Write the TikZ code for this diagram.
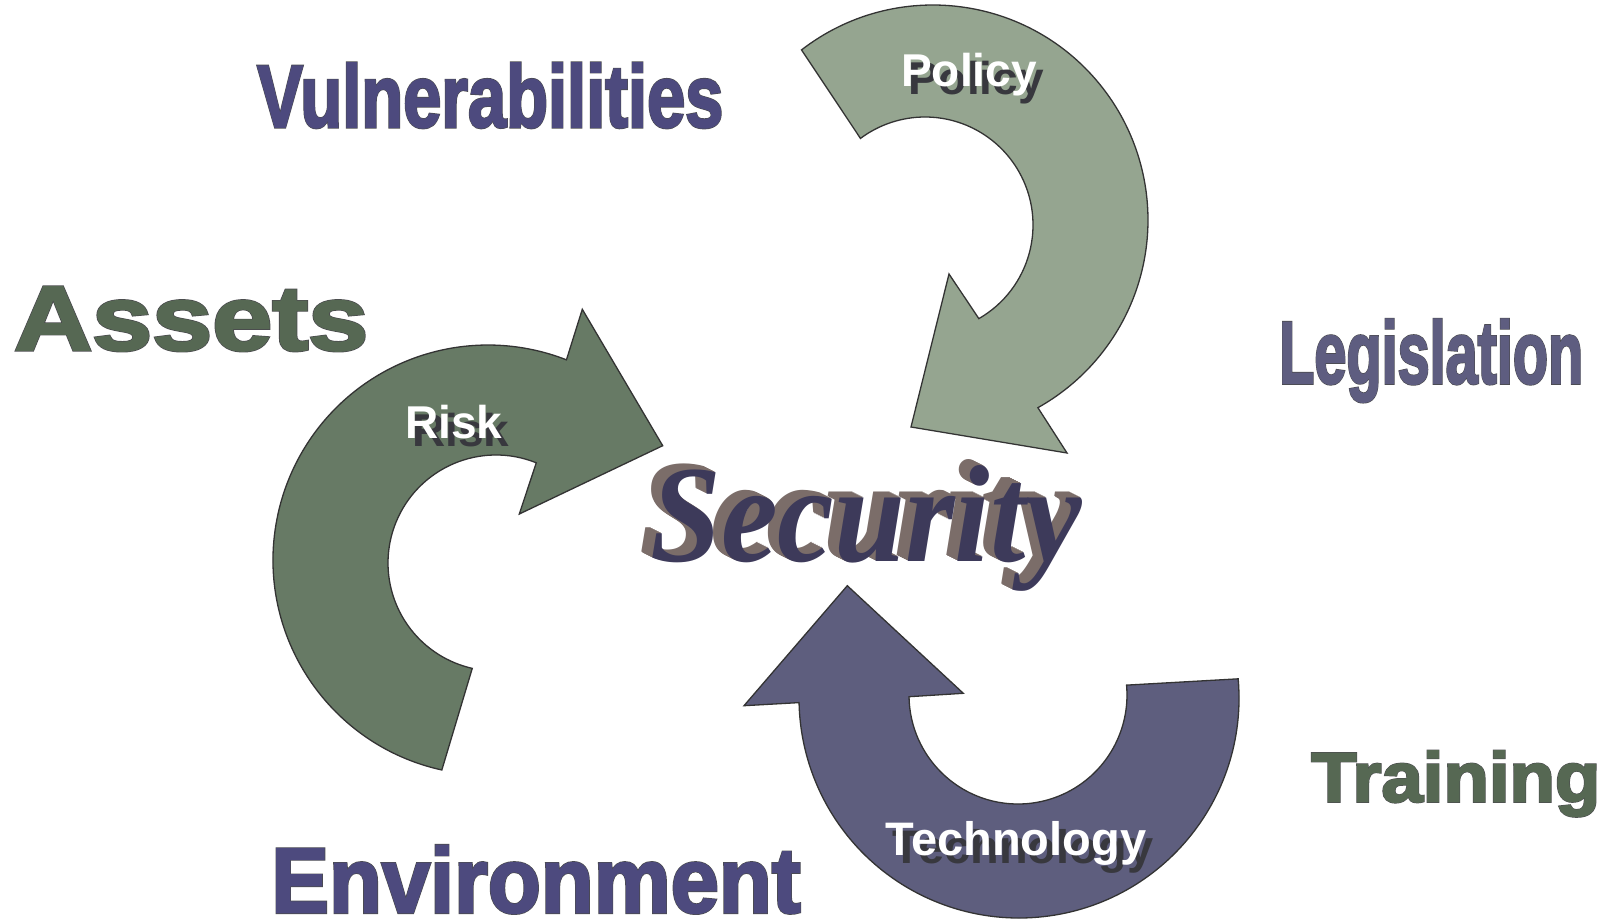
\documentclass[tikz,border=0pt]{standalone}
\usepackage{fontspec}
\setmainfont{Liberation Sans}
\newfontfamily\secfont{Liberation Serif}
\newfontfamily\wordfont{Liberation Sans}[BoldFeatures={FakeBold=2}]
\newfontfamily\wordedge{Liberation Sans}[BoldFeatures={FakeBold=3.4}]
\definecolor{policyc}{HTML}{95A590}
\definecolor{riskc}{HTML}{677A65}
\definecolor{techc}{HTML}{5E5E7E}
\definecolor{edgec}{HTML}{333333}
\definecolor{blueword}{HTML}{4D4A7E}
\definecolor{greyword}{HTML}{5E5D80}
\definecolor{greenword}{HTML}{566853}
\definecolor{wordline}{HTML}{4A4A4E}
\definecolor{shadowc}{HTML}{38383E}
\definecolor{extrc}{HTML}{7B6D69}
\definecolor{frontc}{HTML}{3D3A5A}
\begin{document}
\begin{tikzpicture}[x=1pt,y=-1pt,
  arrowshape/.style={draw=edgec,line width=1.3pt,line join=miter},
  lbl/.style={anchor=base,font=\fontsize{46}{46}\selectfont\bfseries,text=white,inner sep=0pt},
  lblshadow/.style={lbl,text=shadowc},
  bigword/.style={anchor=base west,inner sep=0pt,font=\wordfont\bfseries},
  bigedge/.style={anchor=base west,inner sep=0pt,font=\wordedge\bfseries,text=wordline},
  secw/.style={anchor=base west,inner sep=0pt,font=\secfont\bfseries\itshape}]
\fill[white] (0,0) rectangle (1617,921);
\useasboundingbox (0,0) rectangle (1617,921);

% Policy arrow
\filldraw[arrowshape,fill=policyc]
  ([shift={(933,220)}]-127.7:215) arc[start angle=-127.7,end angle=60.8,radius=215]
  -- (1067,453) -- (911,427) -- (949,274)
  -- ([shift={(925,225)}]60.1:108) arc[start angle=60.1,end angle=-126.7,radius=108] -- cycle;
% Risk arrow
\filldraw[arrowshape,fill=riskc]
  ([shift={(488,560)}]102.4:215) arc[start angle=102.4,end angle=291.4,radius=215]
  -- (582.3,309.3) -- (662.7,445.7) -- (519.3,514)
  -- ([shift={(496,563)}]291.9:108) arc[start angle=291.9,end angle=102.7,radius=108] -- cycle;
% Technology arrow
\filldraw[arrowshape,fill=techc]
  ([shift={(1019,698)}]-5:220) arc[start angle=-5,end angle=178.8,radius=220]
  -- (744,705.7) -- (847.3,585.7) -- (963.3,693.3)
  -- ([shift={(1018,695)}]179.1:109) arc[start angle=179.1,end angle=-5.2,radius=109] -- cycle;

% arrow labels
\node[lblshadow] (policys) at (976,94.7) {Policy};
\node[lbl] (policy) at (969,86.7) {Policy};
\node[lblshadow] (risks) at (461,446) {Risk};
\node[lbl] (risk) at (454,438) {Risk};
\node[lblshadow,font=\fontsize{47}{47}\selectfont\bfseries] (techs) at (1023,863) {Technology};
\node[lbl,font=\fontsize{47}{47}\selectfont\bfseries] (tech) at (1016,855) {Technology};

% outer words
\node[bigedge] (vulne) at (257,127) {\resizebox{466pt}{64pt}{Vulnerabilities}};
\node[bigword,text=blueword] (vuln) at (257,127) {\resizebox{466pt}{64pt}{Vulnerabilities}};
\node[bigedge] (assetse) at (14,350) {\resizebox{354pt}{63pt}{Assets}};
\node[bigword,text=greenword] (assets) at (14,350) {\resizebox{354pt}{63pt}{Assets}};
\node[bigedge] (legise) at (1279,383.3) {\resizebox{304pt}{64pt}{Legislation}};
\node[bigword,text=greyword] (legis) at (1279,383.3) {\resizebox{304pt}{64pt}{Legislation}};
\node[bigedge] (traine) at (1311,801.7) {\resizebox{289pt}{51pt}{Training}};
\node[bigword,text=greenword] (train) at (1311,801.7) {\resizebox{289pt}{51pt}{Training}};
\node[bigedge] (enve) at (271,912.5) {\resizebox{529pt}{67pt}{Environment}};
\node[bigword,text=blueword] (env) at (271,912.5) {\resizebox{529pt}{67pt}{Environment}};

% Security (extruded)
\foreach \k in {11,10,...,1}
  \node[secw,text=extrc] (sx\k) at ({650-\k},{561-\k/2}) {\resizebox{432pt}{96pt}{Security}};
\node[secw,text=frontc] (security) at (650,561) {\resizebox{432pt}{96pt}{Security}};
\end{tikzpicture}
\end{document}
